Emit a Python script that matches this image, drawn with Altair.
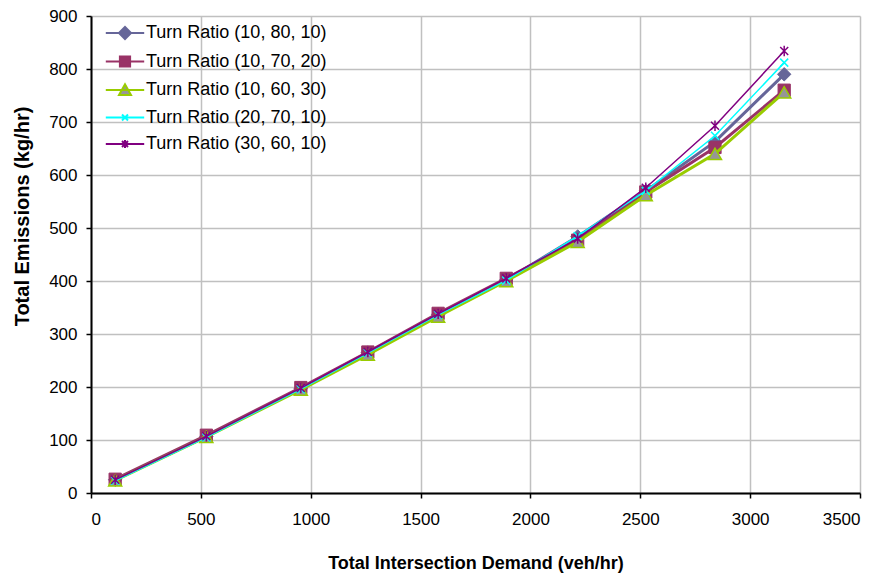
import altair as alt
import pandas as pd

# ---- data ----
demand = [110, 525, 955, 1260, 1580, 1890, 2215, 2525, 2840, 3155]
series_names = [
    "Turn Ratio (10, 80, 10)",
    "Turn Ratio (10, 70, 20)",
    "Turn Ratio (10, 60, 30)",
    "Turn Ratio (20, 70, 10)",
    "Turn Ratio (30, 60, 10)",
]
ratio_10_80_10 = [25, 107, 197, 265, 337, 402, 484, 570, 663, 790]
ratio_10_70_20 = [26, 109, 199, 266, 339, 405, 477, 568, 652, 760]
ratio_10_60_30 = [24, 106, 195, 261, 333, 400, 474, 562, 640, 756]
ratio_20_70_10 = [23, 105, 196, 264, 336, 401, 485, 570, 674, 812]
ratio_30_60_10 = [25, 107, 198, 266, 338, 405, 480, 576, 693, 834]
x_ticks = [0, 500, 1000, 1500, 2000, 2500, 3000, 3500]
y_ticks = [0, 100, 200, 300, 400, 500, 600, 700, 800, 900]

all_series = [ratio_10_80_10, ratio_10_70_20, ratio_10_60_30, ratio_20_70_10, ratio_30_60_10]

rows = []
for name, vals in zip(series_names, all_series):
    for d, v in zip(demand, vals):
        rows.append({"demand": d, "emissions": v, "series": name})
df = pd.DataFrame(rows)

# ---- styles ----
line_colors = ["#666699", "#993366", "#99CC00", "#00FFFF", "#800080"]
line_widths = [3, 3, 3, 1.5, 1.5]
marker_fill = ["#666699", "#993366", "#969696", "#00FFFF", "#800080"]
XPATH = "M-1,-1L1,1M-1,1L1,-1"
STARPATH = "M-1,-1L1,1M-1,1L1,-1M0,-1.3L0,1.3"
marker_shape = ["diamond", "square", "triangle-up", XPATH, STARPATH]
marker_size = [180, 150, 170, 64, 64]
marker_filled = [True, True, True, False, False]
marker_sw = [1, 1, 1.5, 1.5, 1.5]

legend_paths = [
    "M-3.2,0H3.2M-1,0L0,-1L1,0L0,1Z",
    "M-3.2,0H3.2M-0.85,-0.85H0.85V0.85H-0.85Z",
    "M-3.2,0H3.2M-1,0.85L0,-0.95L1,0.85Z",
    "M-3.2,0H3.2M-0.5,-0.5L0.5,0.5M-0.5,0.5L0.5,-0.5",
    "M-3.2,0H3.2M-0.5,-0.5L0.5,0.5M-0.5,0.5L0.5,-0.5M0,-0.65V0.65",
]

x_enc = alt.X(
    "demand:Q",
    scale=alt.Scale(domain=[0, 3500], nice=False),
    axis=alt.Axis(values=x_ticks, format="d", title="Total Intersection Demand (veh/hr)"),
)
y_enc = alt.Y(
    "emissions:Q",
    scale=alt.Scale(domain=[0, 900], nice=False),
    axis=alt.Axis(values=y_ticks, format="d", title="Total Emissions (kg/hr)", titleY=200),
)

base = alt.Chart(df)
layers = []
for i, name in enumerate(series_names):
    sub = base.transform_filter(alt.datum.series == name)
    layers.append(
        sub.mark_line(color=line_colors[i], strokeWidth=line_widths[i]).encode(x=x_enc, y=y_enc)
    )
    pt_kwargs = dict(
        shape=marker_shape[i],
        size=marker_size[i],
        strokeWidth=marker_sw[i],
        opacity=1,
        filled=marker_filled[i],
    )
    if marker_filled[i]:
        pt_kwargs["fill"] = marker_fill[i]
        pt_kwargs["stroke"] = line_colors[i]
    else:
        pt_kwargs["stroke"] = line_colors[i]
    layers.append(sub.mark_point(**pt_kwargs).encode(x=x_enc, y=y_enc))

leg = alt.Legend(
    title=None,
    orient="none",
    legendX=25,
    legendY=8,
    symbolSize=144,
    symbolStrokeWidth=2,
    symbolOpacity=1,
    labelOffset=12,
    labelFontSize=18,
    labelFont="Liberation Sans",
    labelColor="#000000",
    rowPadding=8.5,
    padding=0,
    labelLimit=400,
)
legend_layer = base.mark_point(filled=True, opacity=0, size=144).encode(
    x=x_enc,
    y=y_enc,
    shape=alt.Shape("series:N", scale=alt.Scale(domain=series_names, range=legend_paths), legend=leg),
    fill=alt.Fill("series:N", scale=alt.Scale(domain=series_names, range=marker_fill), legend=leg),
    stroke=alt.Stroke("series:N", scale=alt.Scale(domain=series_names, range=line_colors), legend=leg),
)

chart = (
    alt.layer(*layers, legend_layer)
    .properties(
        width=769,
        height=477,
        autosize=alt.AutoSizeParams(type="none"),
        padding={"left": 83, "top": 8, "right": 10, "bottom": 82},
        background="#ffffff",
    )
    .configure_view(stroke=None)
    .configure_axis(
        labelFont="Liberation Sans",
        labelFontSize=17,
        labelColor="#000000",
        titleFont="Liberation Sans",
        titleFontWeight="bold",
        titleColor="#000000",
        domainColor="#000000",
        domainWidth=2,
        tickColor="#000000",
        tickWidth=1.5,
        tickSize=5,
        gridColor="#c0c0c0",
        gridWidth=1.5,
    )
    .configure_axisX(titleFontSize=18, titlePadding=27, labelPadding=13)
    .configure_axisY(titleFontSize=20, titlePadding=16, labelPadding=9)
)

chart.save("out.html", embed_options={"renderer": "svg", "actions": False})
